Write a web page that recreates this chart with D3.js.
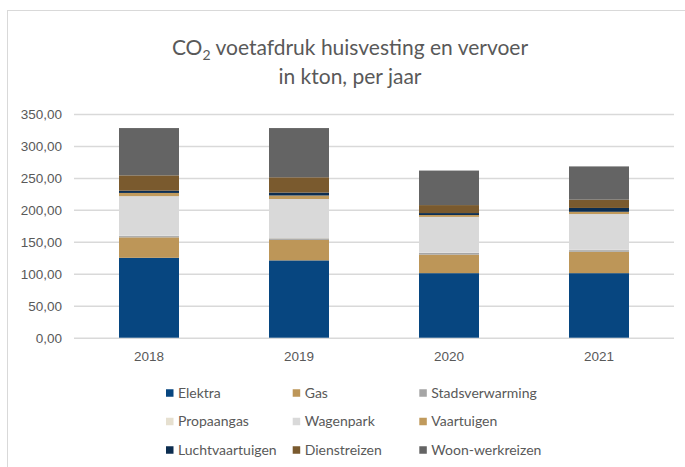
<!DOCTYPE html>
<html>
<head>
<meta charset="utf-8">
<script src="https://cdn.jsdelivr.net/npm/d3@7"></script>
<style>
  body { margin: 0; background: #fff; }
  svg { font-family: Lato, "Open Sans", sans-serif; }
  .grade line { stroke: #d9d9d9; stroke-width: 1.5; }
  .grade path { display: none; }
  .eixo text { fill: #595959; font-size: 13.5px; }
  .eixo path, .eixo line { display: none; }
  .titulo { fill: #595959; font-size: 21px; text-anchor: middle; }
  .legenda text { fill: #595959; font-size: 14px; }
</style>
</head>
<body>
<svg id="grafico"></svg>
<script>
// Dados (kton CO2)
var jaren = ['2018', '2019', '2020', '2021'];
var categorieen = ['Elektra', 'Gas', 'Stadsverwarming', 'Propaangas', 'Wagenpark',
                   'Vaartuigen', 'Luchtvaartuigen', 'Dienstreizen', 'Woon-werkreizen'];
var elektra         = [125, 121, 101, 101];
var gas             = [32, 32, 29, 33.5];
var stadsverwarming = [2, 2.5, 2.5, 2.5];
var propaangas      = [0.5, 0.5, 0.5, 0.5];
var wagenpark       = [62, 61, 56, 56];
var vaartuigen      = [5, 5.5, 3, 3.5];
var luchtvaartuigen = [3.5, 4.5, 3, 6];
var dienstreizen    = [24, 24, 12.5, 13];
var woonwerkreizen  = [74, 77, 54, 52];
var yTicks = [0, 50, 100, 150, 200, 250, 300, 350];
var kleuren = ['#074680', '#bd9658', '#a5a5a5', '#e6e0d0', '#d9d9d9',
               '#c09a5c', '#0c2d50', '#7a5a2e', '#646464'];

var reeksen = [elektra, gas, stadsverwarming, propaangas, wagenpark,
               vaartuigen, luchtvaartuigen, dienstreizen, woonwerkreizen];

// Tabel voor d3.stack
var tabel = jaren.map(function(j, i) {
    var rij = { jaar: j };
    categorieen.forEach(function(c, k) { rij[c] = reeksen[k][i]; });
    return rij;
});

var largura = 685, altura = 467;
var svg = d3.select('#grafico').attr('width', largura).attr('height', altura);

// Kader
svg.append('rect')
   .attr('x', 7.5).attr('y', 10.5)
   .attr('width', 700).attr('height', 500)
   .attr('fill', 'none').attr('stroke', '#d9d9d9').attr('stroke-width', 1);

// Titel
var titulo = svg.append('text').attr('class', 'titulo').attr('x', 350).attr('y', 55);
titulo.append('tspan').text('CO');
titulo.append('tspan').attr('dy', 5).style('font-size', '14px').text('2');
titulo.append('tspan').attr('dy', -5).text(' voetafdruk huisvesting en vervoer');
svg.append('text').attr('class', 'titulo').attr('x', 350).attr('y', 84).text('in kton, per jaar');

// Plotgebied
var margem = { esquerda: 74, superior: 114 };
var larguraPlot = 600, alturaPlot = 223.7;
var plot = svg.append('g')
              .attr('transform', 'translate(' + margem.esquerda + ',' + margem.superior + ')');

var x = d3.scaleBand().domain(jaren).range([0, larguraPlot]).paddingInner(0.6).paddingOuter(0.3);
var y = d3.scaleLinear().domain([0, 350]).range([alturaPlot, 0]);

var formato = function(d) { return d3.format('.2f')(d).replace('.', ','); };

// Rasterlijnen
plot.append('g')
    .attr('class', 'grade')
    .call(d3.axisRight(y).tickValues(yTicks).tickSize(larguraPlot).tickFormat(''));

// Assen
plot.append('g')
    .attr('class', 'eixo')
    .call(d3.axisLeft(y).tickValues(yTicks).tickSize(0).tickPadding(12).tickFormat(formato));
plot.append('g')
    .attr('class', 'eixo')
    .attr('transform', 'translate(0,' + alturaPlot + ')')
    .call(d3.axisBottom(x).tickSize(0).tickPadding(14));

// Gestapelde kolommen
var stapel = d3.stack().keys(categorieen)(tabel);
plot.selectAll('.serie')
    .data(stapel)
    .enter().append('g')
    .attr('class', 'serie')
    .attr('fill', function(d, i) { return kleuren[i]; })
    .selectAll('rect')
    .data(function(d) { return d; })
    .enter().append('rect')
    .attr('x', function(d) { return x(d.data.jaar); })
    .attr('y', function(d) { return y(d[1]); })
    .attr('width', x.bandwidth())
    .attr('height', function(d) { return y(d[0]) - y(d[1]); });

// Legenda
var kolomX = [166, 292.7, 419.3];
var rijY = [393, 421.5, 450];
var legenda = svg.append('g').attr('class', 'legenda');
var item = legenda.selectAll('g')
    .data(categorieen)
    .enter().append('g')
    .attr('transform', function(d, i) {
        return 'translate(' + kolomX[i % 3] + ',' + rijY[Math.floor(i / 3)] + ')';
    });
item.append('rect')
    .attr('x', 0).attr('y', -3.75).attr('width', 7.5).attr('height', 7.5)
    .attr('fill', function(d, i) { return kleuren[i]; });
item.append('text')
    .attr('x', 12).attr('dy', '0.35em')
    .text(function(d) { return d; });
</script>
</body>
</html>
